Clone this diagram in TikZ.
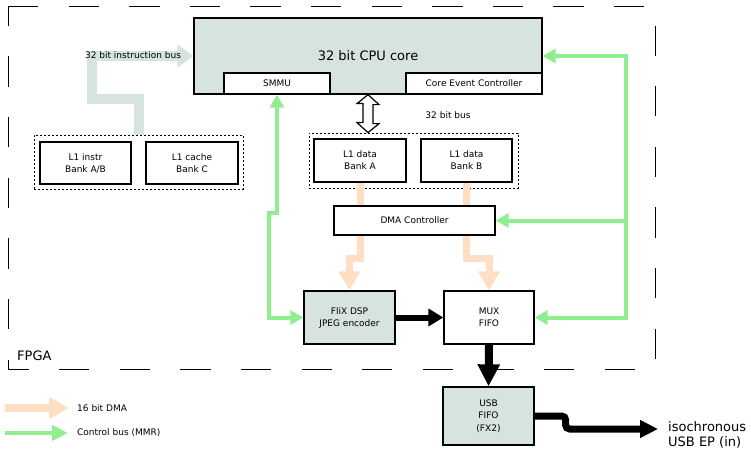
\documentclass[tikz,border=0pt]{standalone}
\usepackage{fontspec}
\setmainfont{DejaVu Sans}
\usetikzlibrary{arrows.meta}

\definecolor{coreblue}{RGB}{214,227,225}
\definecolor{dmapeach}{RGB}{255,223,196}
\definecolor{mmrgreen}{RGB}{144,238,144}

\begin{document}
\begin{tikzpicture}[
  x=1pt, y=-1pt,
  font=\fontsize{9}{12}\selectfont,
  box/.style={draw, line width=1.3pt, align=center, inner sep=0pt, fill=white},
  grp/.style={draw, line width=0.8pt, dash pattern=on 2pt off 2pt},
  big/.style={font=\fontsize{13}{15}\selectfont},
  ibus/.style={line width=10pt, coreblue, line join=miter, -{Triangle[length=16pt,width=22pt]}},
  dmaline/.style={line width=7pt, dmapeach, line join=miter},
  dmaarrow/.style={dmaline, -{Triangle[length=19pt,width=21pt]}},
  mmr/.style={line width=4pt, mmrgreen, line join=miter},
  mmrarrow/.style={mmr, -{Triangle[length=13pt,width=14pt]}},
  mmrboth/.style={mmr, {Triangle[length=13pt,width=14pt]}-{Triangle[length=13pt,width=14pt]}},
  databus/.style={line width=6pt, black, -{Triangle[length=15pt,width=17pt]}},
  dbus/.style={draw=black, line width=1.2pt, fill=white, line join=miter}
]
\useasboundingbox (0,0) rectangle (751,449);

% FPGA boundary
\draw[line width=0.9pt, dash pattern=on 30.3pt off 30.3pt]
  (8,6) -- (655,6) -- (655,369) -- (8,369) -- cycle;
\node[big, anchor=base west, inner sep=0pt] (fpga) at (17,360) {FPGA};

% CPU core with its sub blocks
\node[box, fill=coreblue, minimum width=348pt, minimum height=76pt, big] (cpu) at (368,56) {32 bit CPU core};
\node[box, minimum width=106pt, minimum height=21pt] (smmu) at (277,83.5) {SMMU};
\node[box, minimum width=136pt, minimum height=21pt] (cec) at (474,83.5) {Core Event Controller};

% L1 instruction memories
\node[grp, minimum width=209pt, minimum height=54pt] (instrgrp) at (138.5,162) {};
\node[box, minimum width=91pt, minimum height=42pt] (instrA) at (85.5,163) {L1 instr\\Bank A/B};
\node[box, minimum width=92pt, minimum height=42pt] (cacheC) at (192,163) {L1 cache\\Bank C};

% L1 data memories
\node[grp, minimum width=209pt, minimum height=55pt] (datagrp) at (413.5,160.5) {};
\node[box, minimum width=92pt, minimum height=43pt] (bankA) at (360,160.5) {L1 data\\Bank A};
\node[box, minimum width=91pt, minimum height=43pt] (bankB) at (466.5,160.5) {L1 data\\Bank B};

% DMA, encoder, FIFOs
\node[box, minimum width=161pt, minimum height=29pt] (dma) at (414.5,220.5) {DMA Controller};
\node[box, fill=coreblue, minimum width=91pt, minimum height=53pt] (flix) at (349.5,317.5) {FliX DSP\\JPEG encoder};
\node[box, minimum width=90pt, minimum height=53pt] (mux) at (489,317.5) {MUX\\FIFO};
\node[box, fill=coreblue, minimum width=91pt, minimum height=58pt, font=\fontsize{9}{12.5}\selectfont] (usb) at (488.5,416) {USB\\FIFO\\(FX2)};
\node[big, align=left, anchor=west, inner xsep=10pt, inner ysep=0pt] (iso) at (658,435) {isochronous\\USB EP (in)};

% instruction bus
\draw[ibus] (instrgrp.north) -- ++(0,-36) -- ++(-46.5,0) |- (cpu.west);
\node (ibuslbl) at (133,55) {32 bit instruction bus};

% 32 bit data bus
\coordinate (busTop) at (cpu.south);
\coordinate (busBot) at (cpu.south |- datagrp.north);
\draw[dbus] (busTop) -- ++(11,10) -- ++(-6,0) -- ++(0,19) -- ++(6,0) -- (busBot)
  -- ++(-11,-10) -- ++(6,0) -- ++(0,-19) -- ++(-6,0) -- cycle;
\node (buslbl) at (448,115) {32 bit bus};

% 16 bit DMA
\draw[dmaline] (bankA.south) -- (bankA.south |- dma.north);
\draw[dmaline] (bankB.south) -- (bankB.south |- dma.north);
\draw[dmaarrow] (bankA.south |- dma.south) -- ++(0,23) -| (flix.north);
\draw[dmaarrow] (bankB.south |- dma.south) -- ++(0,23) -| (mux.north);

% control bus (MMR)
\coordinate (mmrbus) at (626,0);
\draw[mmrboth] (cpu.east) -- (cpu.east -| mmrbus) -- (mux.east -| mmrbus) -- (mux.east);
\draw[mmrarrow] (dma.east -| mmrbus) -- (dma.east);
\draw[mmrboth] (smmu.south) -- ++(0,118) -- ++(-8,0) |- (flix.west);

% video data path
\draw[databus] (flix.east) -- (mux.west);
\draw[databus, line width=8pt, -{Triangle[length=22pt,width=21pt]}] (mux.south) -- (usb.north);
\draw[databus, line width=7pt, rounded corners=4pt, -{Triangle[length=18pt,width=17pt]}]
  (usb.east) -- ++(31,0) |- ([yshift=6pt]iso.west);

% legend
\coordinate (lgdma) at (5,408);
\coordinate (lgmmr) at (5,433);
\node[anchor=west, inner sep=0pt] (lgdmatxt) at (77,408) {16 bit DMA};
\node[anchor=west, inner sep=0pt] (lgmmrtxt) at (77,433) {Control bus (MMR)};
\draw[dmaline, line width=8pt, -{Triangle[length=20pt,width=21pt]}] (lgdma) -- ([xshift=-8pt]lgdmatxt.west);
\draw[mmr, -{Triangle[length=16pt,width=15pt]}] (lgmmr) -- ([xshift=-9pt]lgmmrtxt.west);
\end{tikzpicture}
\end{document}
